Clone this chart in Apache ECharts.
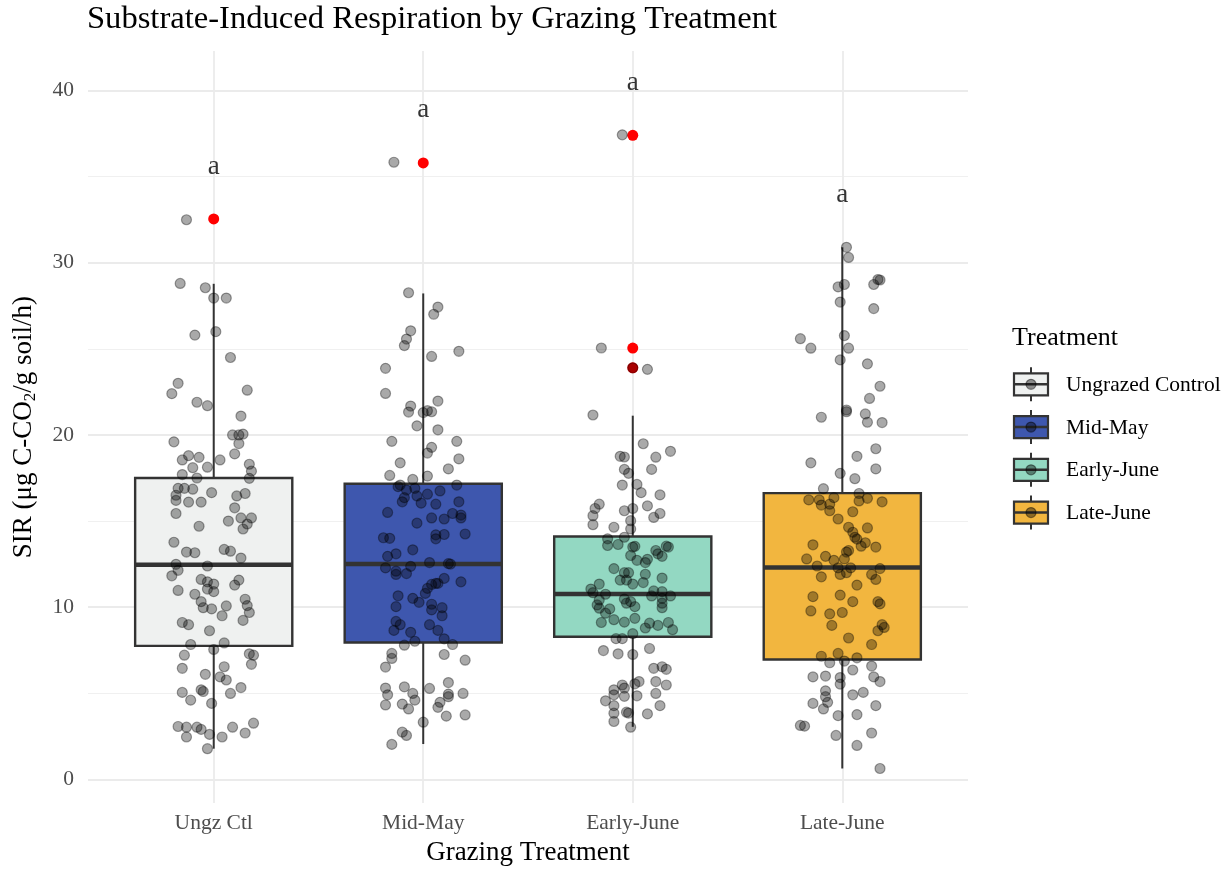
<!DOCTYPE html>
<html><head><meta charset="utf-8">
<script src="https://cdn.jsdelivr.net/npm/echarts@6/dist/echarts.min.js"></script>
<style>html,body{margin:0;padding:0;background:#fff}#c{width:1229px;height:871px}</style>
</head><body><div id="c"></div>
<script>
// ---------------- data ----------------
const categories = ['Ungz Ctl', 'Mid-May', 'Early-June', 'Late-June'];
const legendLabels = ['Ungrazed Control', 'Mid-May', 'Early-June', 'Late-June'];
const whiskerLow = [1.78, 2.05, 3.05, 0.63];
const boxQ1 = [7.75, 7.95, 8.28, 6.96];
const boxMedian = [12.47, 12.5, 10.76, 12.3];
const boxQ3 = [17.5, 17.17, 14.1, 16.62];
const whiskerHigh = [28.78, 28.22, 21.12, 30.9];
const outliers = [[32.55], [35.8], [37.4, 25.05, 23.9], []];
const sigLetters = ['a', 'a', 'a', 'a'];
const letterY = [35.57, 38.85, 40.47, 33.95];
const yTicks = [0, 10, 20, 30, 40];
const yMinorTicks = [5, 15, 25, 35];

// jittered observations: [horizontal jitter (category units), SIR value]
const ptsUngz = [[-0.13,32.5],[-0.16,28.8],[-0.04,28.55],[0.00,27.95],[0.06,27.95],[-0.09,25.8],[0.01,26.0],[0.08,24.5],[-0.17,23.0],[-0.20,22.4],[0.16,22.6],[-0.08,21.9],[-0.03,21.7],[0.13,21.1],[0.09,20.0],[0.12,20.0],[0.14,20.05],[0.12,19.5],[-0.19,19.6],[0.10,18.9],[-0.12,18.8],[-0.15,18.55],[-0.07,18.7],[0.03,18.55],[-0.10,18.1],[-0.03,18.13],[0.17,18.3],[0.18,17.9],[-0.15,17.7],[-0.08,17.5],[0.17,17.48],
[-0.17,16.9],[-0.14,16.9],[-0.10,16.85],[-0.18,16.5],[-0.18,16.2],[-0.01,16.65],[0.11,16.46],[0.15,16.6],[-0.12,16.1],[-0.06,16.1],[0.10,15.77],[-0.18,15.44],[0.07,15.0],[0.13,15.18],[0.18,15.18],[0.16,14.83],[0.14,14.54],[-0.07,14.7],[-0.19,13.77],[-0.13,13.2],[-0.09,13.16],[0.05,13.35],[0.08,13.25],[0.13,12.85],[-0.18,12.49],[-0.17,12.14],[-0.20,11.82],[-0.03,12.39],[-0.06,11.61],[-0.03,11.47],[0.00,11.34],[-0.03,11.05],[0.00,10.9],[0.12,11.57],[0.10,11.28],[-0.17,10.97],[-0.09,10.75],[-0.06,10.32],[-0.05,9.97],[-0.01,9.9],[0.06,10.07],[0.04,9.5],[0.15,10.46],[0.16,10.09],[0.17,9.69],[0.14,9.23],[-0.15,9.11],[-0.12,8.98],[-0.02,8.63],[-0.11,7.83],[0.00,7.54],[0.05,7.92],[-0.14,7.21],[0.17,7.29],[0.19,7.21],[0.18,6.68],[-0.15,6.45],[-0.04,6.1],[0.05,6.54],[0.03,5.95],[0.06,5.77],[-0.15,5.05],[-0.06,5.2],[-0.05,5.1],[-0.11,4.6],[0.08,4.99],[0.13,5.33],[-0.01,4.41],[-0.17,3.07],[-0.13,3.03],[-0.08,3.03],[-0.06,2.9],[-0.13,2.46],[-0.02,2.61],[0.04,2.46],[0.09,3.03],[0.15,2.69],[0.19,3.26],[-0.03,1.78]];

const ptsMidMay = [[-0.14,35.84],[-0.07,28.26],[0.07,27.43],[0.05,27.01],[-0.06,26.05],[-0.08,25.57],[-0.09,25.19],[0.17,24.86],[0.04,24.56],[-0.18,23.87],[-0.18,22.41],[-0.06,21.68],[-0.07,21.33],[0.00,21.3],[0.02,21.41],[0.04,21.35],[0.07,21.97],[-0.03,20.53],[0.07,20.3],[-0.15,19.63],[0.16,19.63],[0.04,19.28],[0.02,18.95],[-0.11,18.38],[0.17,18.61],[0.12,18.03],[-0.16,17.65],[-0.05,17.42],[0.02,17.61],[-0.11,17.09],[0.16,17.09],
[-0.12,17.0],[-0.08,16.8],[-0.04,16.9],[0.02,16.56],[0.08,16.75],[-0.09,16.36],[-0.10,16.12],[-0.03,16.46],[-0.01,16.04],[0.06,15.98],[0.17,16.12],[-0.17,15.5],[0.14,15.44],[0.18,15.35],[0.18,15.18],[0.04,15.18],[0.10,15.12],[-0.03,14.88],[-0.19,14.03],[-0.16,14.0],[0.06,14.2],[0.06,13.97],[0.10,14.22],[0.20,14.25],[-0.05,13.33],[-0.13,13.1],[-0.17,12.95],[-0.18,12.28],[-0.13,12.09],[-0.13,11.9],[-0.08,11.95],[-0.06,12.37],[0.03,12.59],[0.12,12.53],[0.13,12.5],[0.10,11.67],[0.18,11.47],[0.06,11.38],[0.07,11.38],[0.04,11.32],[0.02,11.09],[0.01,10.8],[-0.12,10.66],[-0.05,10.51],[-0.02,10.28],[-0.13,10.03],[0.04,10.17],[0.04,9.84],[0.09,9.97],[0.09,9.5],[-0.13,9.17],[-0.11,8.98],[-0.14,8.65],[0.03,8.98],[0.07,8.65],[-0.06,8.54],[-0.04,8.02],[0.10,8.16],[0.14,7.83],[-0.09,7.79],[-0.15,7.31],[-0.15,7.02],[-0.18,6.52],[0.10,7.25],[0.20,6.92],[-0.18,5.3],[-0.17,4.91],[-0.09,5.37],[-0.05,4.99],[-0.04,4.6],[0.03,5.28],[0.12,5.62],[0.12,4.95],[0.12,4.8],[0.19,4.99],[-0.18,4.32],[-0.10,4.37],[-0.07,4.09],[0.08,4.47],[0.07,4.18],[0.11,3.67],[0.20,3.74],[0.00,3.32],[-0.10,2.74],[-0.08,2.55],[-0.15,2.03]];

const ptsEarlyJune = [[-0.05,37.43],[-0.15,25.05],[0.07,23.81],[0.00,23.9],[-0.19,21.16],[0.05,19.49],[0.18,19.05],[-0.06,18.76],[-0.04,18.72],[0.11,18.71],[-0.04,18.0],[-0.02,17.77],[0.09,18.0],[-0.05,17.09],[0.02,17.13],[0.04,16.65],[0.13,16.52],[0.07,15.88],[-0.16,15.98],[-0.18,15.73],[-0.19,15.31],[-0.19,14.79],[-0.04,15.6],[0.00,15.73],[0.10,15.21],[0.13,15.44],[-0.01,15.02],[-0.01,14.54],[-0.09,14.64],[-0.12,13.97],[-0.12,13.58],[-0.04,14.06],[-0.07,13.64],[0.00,13.49],[0.01,13.53],[0.16,13.54],[0.17,13.49],[0.11,13.29],[0.12,13.1],[0.14,12.95],[-0.01,13.0],[0.02,12.72],[0.06,12.59],[0.07,12.78],[-0.09,12.24],[-0.04,12.0],[-0.02,12.0],[-0.06,11.57],[-0.03,11.57],[0.00,11.34],[0.06,11.91],[0.05,11.43],[0.14,11.69],[-0.16,11.34],[-0.20,11.05],[-0.19,10.84],[-0.13,10.75],[-0.16,10.42],[-0.04,10.47],[-0.01,10.32],[-0.03,10.23],[0.10,10.94],[0.09,10.65],[0.14,10.9],[0.14,10.51],[0.18,10.65],[0.14,10.23],[0.14,9.97],[-0.17,10.13],[-0.16,9.94],[0.01,10.03],[-0.11,9.9],[-0.13,9.65],[-0.15,9.11],[-0.09,9.27],[-0.04,9.13],[0.01,9.35],[0.08,9.07],[0.06,8.79],[0.12,8.94],[0.17,9.11],[0.19,8.69],[0.00,8.46],[-0.08,8.17],[-0.05,8.17],[-0.14,7.48],[-0.07,7.29],[0.00,7.25],[0.08,7.6],[0.10,6.45],[0.14,6.54],[0.16,6.39],[0.11,5.68],[0.16,5.48],[-0.05,5.48],[-0.04,5.3],[-0.09,5.2],[-0.09,4.91],[-0.04,4.82],[0.02,4.85],[0.03,5.68],[0.01,5.55],[0.11,4.99],[-0.13,4.56],[-0.09,4.28],[-0.09,3.84],[-0.03,3.9],[-0.02,3.85],[0.07,3.8],[0.13,4.28],[-0.09,3.36],[-0.01,3.03]];

const ptsLateJune = [[0.02,30.9],[0.03,30.31],[0.17,29.03],[0.15,28.74],[0.18,29.0],[-0.02,28.6],[0.01,28.74],[-0.01,27.72],[0.15,27.34],[-0.20,25.59],[-0.15,25.04],[0.01,25.77],[0.03,25.04],[-0.01,24.36],[0.12,24.13],[0.18,22.83],[0.13,22.12],[0.02,21.45],[0.02,21.35],[-0.10,21.03],[0.11,21.22],[0.12,20.74],[0.19,20.72],[0.16,19.2],[0.07,18.76],[-0.15,18.38],[0.16,18.03],[-0.01,17.77],[0.06,17.46],[-0.09,16.88],[0.08,16.6],[0.08,16.17],[-0.16,16.23],[-0.11,16.23],[-0.10,15.93],[-0.06,15.98],[-0.06,15.6],[-0.04,16.36],[0.12,16.32],[0.19,16.12],[0.05,15.54],[-0.02,15.12],[0.03,14.64],[0.12,14.6],[0.05,14.35],[0.06,14.06],[0.07,13.95],[0.11,13.74],[0.09,13.54],[0.16,13.49],[-0.14,13.62],[0.03,13.29],[0.02,13.2],[-0.17,12.8],[-0.08,12.95],[-0.04,12.72],[0.01,12.8],[-0.12,12.39],[-0.02,12.28],[0.04,12.28],[0.18,12.24],[-0.10,11.76],[-0.01,11.9],[0.02,12.0],[0.14,11.9],[0.16,11.61],[0.07,11.28],[-0.14,10.61],[-0.01,10.7],[0.05,10.32],[0.17,10.32],[0.18,10.19],[-0.15,9.78],[-0.06,9.61],[0.00,9.69],[-0.05,8.94],[0.19,8.98],[0.20,8.82],[0.17,8.63],[0.03,8.21],[0.14,7.83],[-0.10,7.15],[-0.02,7.31],[0.07,7.06],[-0.06,6.77],[0.01,6.87],[0.05,6.35],[-0.14,5.95],[-0.08,6.0],[-0.01,5.91],[-0.01,5.53],[0.14,6.58],[0.15,5.95],[0.18,5.68],[-0.08,5.14],[-0.08,4.8],[-0.07,4.47],[0.05,4.91],[0.10,5.05],[-0.14,4.41],[-0.09,4.09],[0.16,4.28],[-0.02,3.7],[0.07,3.76],[-0.20,3.13],[-0.18,3.09],[-0.03,2.55],[0.14,2.69],[0.07,1.97],[0.18,0.63]];

const groupPoints = [ptsUngz, ptsMidMay, ptsEarlyJune, ptsLateJune];

// ---------------- styles ----------------
const FONT = "'Liberation Serif', 'Times New Roman', serif";
const fills = ['#EFF1F0', '#3E57AE', '#93D8C2', '#F2B63F'];
const BOX_LINE = '#333333';
const BOX_HALF = 0.375;

// ---------------- build ----------------
const boxData = categories.map((c, i) => [i + 1, whiskerLow[i], boxQ1[i], boxMedian[i], boxQ3[i], whiskerHigh[i]]);
const outlierData = [];
outliers.forEach((arr, i) => arr.forEach(v => outlierData.push([i + 1, v])));
const pointData = [];
groupPoints.forEach((arr, i) => arr.forEach(p => pointData.push([i + 1 + p[0], p[1]])));
const letterData = categories.map((c, i) => ({ value: [i + 1, letterY[i]], letter: sigLetters[i] }));

const chart = echarts.init(document.getElementById('c'), null, { renderer: 'canvas' });

// legend (ggplot-style keys)
const legendChildren = [{
  type: 'text', left: 1012, top: 325,
  style: { text: 'Treatment', font: "26px " + FONT, fill: '#000' }
}];
legendLabels.forEach((lab, i) => {
  const cy = 384.3 + i * 42.75;
  const cx = 1031;
  legendChildren.push(
    { type: 'line', shape: { x1: cx, y1: cy - 17, x2: cx, y2: cy + 17 }, style: { stroke: BOX_LINE, lineWidth: 2 } },
    { type: 'rect', shape: { x: cx - 17, y: cy - 11, width: 34, height: 22 }, style: { fill: fills[i], stroke: BOX_LINE, lineWidth: 2.2 } },
    { type: 'line', shape: { x1: cx - 17, y1: cy, x2: cx + 17, y2: cy }, style: { stroke: BOX_LINE, lineWidth: 2.5 } },
    { type: 'circle', shape: { cx: cx, cy: cy, r: 5 }, style: { fill: 'rgba(0,0,0,0.42)', stroke: 'rgba(0,0,0,0.45)', lineWidth: 1.2 } },
    { type: 'text', x: 1066, y: cy + 1, style: { text: lab, font: "21.5px " + FONT, fill: '#000', textVerticalAlign: 'middle', verticalAlign: 'middle' } }
  );
});

const option = {
  animation: false,
  backgroundColor: '#ffffff',
  textStyle: { fontFamily: FONT },
  title: {
    text: 'Substrate-Induced Respiration by Grazing Treatment',
    left: 87, top: 3, padding: 0,
    textStyle: { fontFamily: FONT, fontSize: 32.6, fontWeight: 'normal', color: '#000' }
  },
  grid: { left: 88, right: 261, top: 51, bottom: 61, containLabel: false },
  xAxis: {
    type: 'value', min: 0.4, max: 4.6,
    axisLine: { show: false },
    axisTick: { show: false, customValues: [1, 2, 3, 4] },
    axisLabel: {
      customValues: [1, 2, 3, 4],
      formatter: v => categories[Math.round(v) - 1],
      color: '#4D4D4D', fontSize: 21.5, fontFamily: FONT, margin: 9
    },
    splitLine: { show: true, lineStyle: { color: '#EBEBEB', width: 1.8 } },
    name: 'Grazing Treatment', nameLocation: 'middle', nameGap: 35,
    nameTextStyle: { fontSize: 27, fontFamily: FONT, color: '#000' }
  },
  yAxis: [{
    type: 'value', min: -1.38, max: 42.3,
    axisLine: { show: false },
    axisTick: { show: false, customValues: yTicks },
    axisLabel: { customValues: yTicks, color: '#4D4D4D', fontSize: 21.5, fontFamily: FONT, margin: 14 },
    splitLine: { show: true, lineStyle: { color: '#EBEBEB', width: 1.8 } },
    name: 'SIR (μg C-CO{sub|2}/g soil/h)', nameLocation: 'middle', nameGap: 49,
    nameTextStyle: {
      fontSize: 27, fontFamily: FONT, color: '#000',
      rich: { sub: { fontSize: 17, fontFamily: FONT, color: '#000', verticalAlign: 'bottom', lineHeight: 30 } }
    }
  }, {
    type: 'value', min: -1.38, max: 42.3, position: 'left',
    axisLine: { show: false },
    axisTick: { show: false, customValues: yMinorTicks },
    axisLabel: { show: false, customValues: yMinorTicks },
    splitLine: { show: true, lineStyle: { color: '#F0F0F0', width: 1.2 } }
  }],
  series: [{
    type: 'custom', name: 'boxes', z: 2,
    data: boxData,
    encode: { x: 0, y: [1, 2, 3, 4, 5] },
    renderItem: function (params, api) {
      const x = api.value(0);
      const pLow = api.coord([x, api.value(1)]);
      const pQ1 = api.coord([x, api.value(2)]);
      const pMed = api.coord([x, api.value(3)]);
      const pQ3 = api.coord([x, api.value(4)]);
      const pHigh = api.coord([x, api.value(5)]);
      const left = api.coord([x - BOX_HALF, 0])[0];
      const right = api.coord([x + BOX_HALF, 0])[0];
      const col = fills[params.dataIndex];
      return {
        type: 'group', children: [
          { type: 'line', shape: { x1: pLow[0], y1: pLow[1], x2: pQ1[0], y2: pQ1[1] }, style: { stroke: BOX_LINE, lineWidth: 2 } },
          { type: 'line', shape: { x1: pQ3[0], y1: pQ3[1], x2: pHigh[0], y2: pHigh[1] }, style: { stroke: BOX_LINE, lineWidth: 2 } },
          { type: 'rect', shape: { x: left, y: pQ3[1], width: right - left, height: pQ1[1] - pQ3[1] }, style: { fill: col, stroke: BOX_LINE, lineWidth: 2.4 } },
          { type: 'line', shape: { x1: left, y1: pMed[1], x2: right, y2: pMed[1] }, style: { stroke: BOX_LINE, lineWidth: 4.5 } }
        ]
      };
    }
  }, {
    type: 'scatter', name: 'outliers', z: 3,
    data: outlierData, symbolSize: 11,
    itemStyle: { color: '#FF0000', opacity: 1 }
  }, {
    type: 'scatter', name: 'observations', z: 4,
    data: pointData, symbolSize: 10,
    itemStyle: { color: 'rgba(0,0,0,0.42)', borderColor: 'rgba(0,0,0,0.45)', borderWidth: 1.2 }
  }, {
    type: 'scatter', name: 'letters', z: 5,
    data: letterData, symbolSize: 0, silent: true,
    label: {
      show: true, position: 'inside',
      formatter: p => p.data.letter,
      fontSize: 27, fontFamily: FONT, color: '#000'
    }
  }],
  graphic: legendChildren
};
chart.setOption(option);
</script>
</body></html>
